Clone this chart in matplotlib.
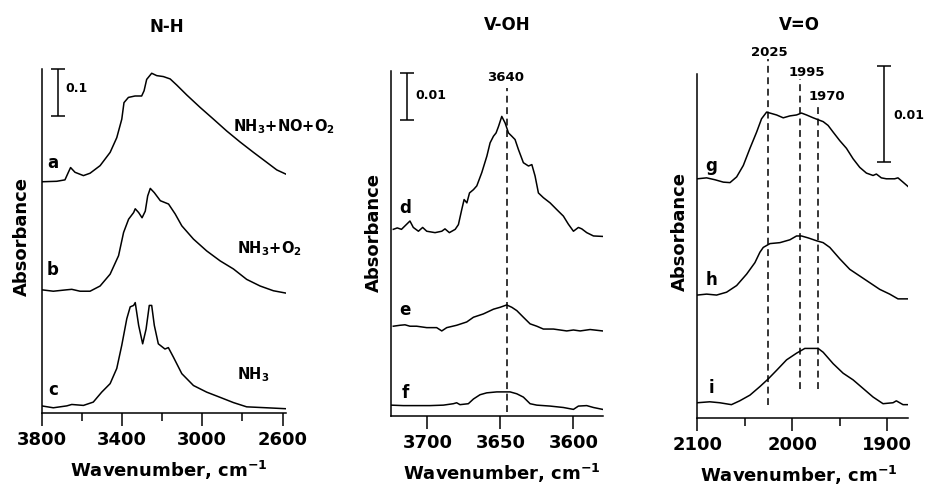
import matplotlib
matplotlib.use("Agg")
import matplotlib.pyplot as plt
from matplotlib.ticker import FixedLocator

plt.rcParams['font.family'] = ['DejaVu Sans']
plt.rcParams['font.weight'] = 'bold'
plt.rcParams['mathtext.default'] = 'bf'

# ---------------- Panel 1: N-H region ----------------
nh_titles = "N-H"
nh_offsets = [0.488, 0.26, 0.015]
nh_labels = ["a", "b", "c"]
nh_gas = [r"NH$_3$+NO+O$_2$", r"NH$_3$+O$_2$", r"NH$_3$"]

wn_a = [3800, 3725, 3684, 3667, 3656, 3634, 3592, 3559, 3509, 3459, 3426, 3401, 3390, 3368,
        3335, 3302, 3290, 3277, 3252, 3227, 3194, 3160, 3127, 3077, 3011, 2944, 2878, 2812,
        2745, 2679, 2629, 2583]
abs_a = [0, 0.001, 0.004, 0.02, 0.030, 0.02, 0.013, 0.018, 0.034, 0.062, 0.093, 0.132, 0.167,
         0.178, 0.181, 0.181, 0.192, 0.216, 0.229, 0.224, 0.222, 0.217, 0.204, 0.183, 0.157,
         0.132, 0.107, 0.084, 0.062, 0.041, 0.025, 0.016]

wn_b = [3800, 3742, 3675, 3650, 3609, 3559, 3509, 3459, 3417, 3392, 3367, 3342, 3334, 3317,
        3300, 3284, 3272, 3259, 3239, 3209, 3168, 3135, 3102, 3044, 2978, 2911, 2845, 2779,
        2712, 2646, 2583]
abs_b = [0, -0.003, 0, 0.001, -0.003, -0.003, 0.008, 0.033, 0.072, 0.121, 0.149, 0.163, 0.171,
         0.163, 0.152, 0.166, 0.198, 0.214, 0.205, 0.188, 0.181, 0.160, 0.135, 0.107, 0.082,
         0.061, 0.044, 0.022, 0.008, -0.002, -0.007]

wn_c = [3800, 3742, 3675, 3650, 3592, 3543, 3501, 3459, 3426, 3401, 3376, 3359, 3342, 3334,
        3317, 3297, 3280, 3264, 3252, 3239, 3219, 3186, 3169, 3144, 3102, 3044, 2978, 2911,
        2845, 2779, 2679, 2583]
abs_c = [0, -0.004, 0, 0.003, 0.001, 0.008, 0.029, 0.047, 0.079, 0.128, 0.184, 0.209, 0.212,
         0.218, 0.170, 0.131, 0.162, 0.212, 0.212, 0.170, 0.131, 0.120, 0.123, 0.103, 0.068,
         0.043, 0.029, 0.018, 0.007, -0.002, -0.004, -0.006]

# ---------------- Panel 2: V-OH region ----------------
oh_offsets = [0.0395, 0.0191, 0.0022]
oh_labels = ["d", "e", "f"]
oh_mark = 3645.4
oh_mark_label = "3640"

wn_d = [3723.4, 3720.7, 3717.8, 3712, 3709.7, 3706.2, 3703.3, 3700.5, 3694.8, 3690.2, 3688,
        3685, 3681, 3678.8, 3676.5, 3674.9, 3673, 3671.2, 3668.5, 3666.2, 3662.8, 3659.3,
        3657.1, 3654.8, 3653, 3651.3, 3649.1, 3646.8, 3644.5, 3642.2, 3640, 3637.7, 3634.3,
        3630.8, 3628.5, 3626.3, 3624, 3620.6, 3616, 3611.5, 3606.9, 3603.5, 3600, 3596.6,
        3594.3, 3590.9, 3586.3, 3580]
abs_d = [0, 0.0003, 0, 0.00176, 0.0004, -0.0004, 0.0004, -0.0004, -0.0007, -0.0004, 0.0001,
         -0.0007, 0, 0.001, 0.0042, 0.0063, 0.0056, 0.0077, 0.0084, 0.0092, 0.012, 0.0155,
         0.0183, 0.0197, 0.0204, 0.0218, 0.0239, 0.0225, 0.0204, 0.0197, 0.019, 0.0169, 0.0141,
         0.0134, 0.0137, 0.0113, 0.0077, 0.0067, 0.0056, 0.0042, 0.0028, 0.0011, -0.0004,
         0.0004, 0.0001, -0.0007, -0.0014, -0.0015]

wn_e = [3723.4, 3718.8, 3715.4, 3712, 3707.4, 3700.5, 3693.7, 3690.2, 3686.8, 3680, 3673.1,
        3668.5, 3661.7, 3654.8, 3650.3, 3645.7, 3642.2, 3638.8, 3634.3, 3629.7, 3625.1,
        3620.6, 3613.7, 3604.6, 3600, 3595.4, 3588.6, 3580]
abs_e = [-0.0001, 0.0001, 0.0002, -0.0001, -0.0001, -0.0004, -0.0004, -0.0011, -0.0004, 0.0001,
         0.0008, 0.0018, 0.0025, 0.0035, 0.0039, 0.0044, 0.0039, 0.0032, 0.0018, 0.0004,
         -0.0001, -0.0007, -0.0007, -0.0011, -0.0009, -0.0011, -0.0008, -0.0011]

wn_f = [3725, 3716.6, 3707.4, 3698.3, 3689.1, 3682.3, 3680, 3677.7, 3672, 3668.5, 3664,
        3659.4, 3652.5, 3643.4, 3638.8, 3634.3, 3629.7, 3625.1, 3616, 3606.9, 3600, 3596.6,
        3590.9, 3586.3, 3580]
abs_f = [0.0001, 0, 0, 0, 0.0001, 0.0004, 0.0006, 0.0002, 0.0004, 0.0014, 0.0023, 0.0027,
         0.0029, 0.0029, 0.0025, 0.0018, 0.0004, 0.0001, -0.0001, -0.0004, -0.0008, -0.0001,
         0, -0.0004, -0.0008]

# ---------------- Panel 3: V=O region ----------------
vo_offsets = [0.0251, 0.0129, 0.0016]
vo_labels = ["g", "h", "i"]
vo_marks = [2026, 1991.8, 1972.9]
vo_mark_labels = ["2025", "1995", "1970"]

wn_g = [2100, 2090.2, 2081.4, 2072.6, 2065.6, 2058.6, 2051.6, 2044.6, 2037.6, 2032.4, 2027.1,
        2023.6, 2016.6, 2009.6, 2002.6, 1995.6, 1990.4, 1985.1, 1978.1, 1972.9, 1967.6,
        1962.4, 1957.1, 1950.1, 1943.1, 1936.1, 1929.1, 1922.1, 1915.1, 1911.6, 1906.4,
        1901.1, 1892.4, 1888.9, 1883.6, 1878.4]
abs_g = [0, 0.0001, -0.0001, -0.00035, -0.0004, 0.0002, 0.0014, 0.0032, 0.0049, 0.0063, 0.007,
         0.0069, 0.0067, 0.0064, 0.0066, 0.0067, 0.0069, 0.0067, 0.0064, 0.0062, 0.006, 0.0056,
         0.0049, 0.004, 0.0032, 0.0021, 0.0012, 0.0006, 0.00035, 0.0005, 0.0001, 0, 0, 0.0001,
         -0.00035, -0.0008]

wn_h = [2100, 2090.2, 2079.7, 2069.2, 2058.6, 2048.1, 2039.4, 2034.1, 2030.6, 2023.6, 2013.1,
        2002.6, 1995.6, 1990.4, 1983.4, 1974.6, 1967.6, 1960.6, 1950.1, 1939.6, 1929.1,
        1918.6, 1908.1, 1897.6, 1888.9, 1878.4]
abs_h = [0, 0.0001, 0, 0.0003, 0.001, 0.0022, 0.0034, 0.0045, 0.005, 0.0054, 0.0055, 0.0058,
         0.0062, 0.0062, 0.006, 0.0057, 0.0055, 0.005, 0.0038, 0.0027, 0.002, 0.0013, 0.0006,
         0.0001, -0.0004, -0.0004]

wn_i = [2100, 2086.9, 2076.4, 2064.1, 2055.4, 2044.6, 2034.1, 2025.4, 2016.6, 2006.1, 1995.6,
        1986.9, 1978.1, 1972.9, 1967.6, 1957.1, 1946.6, 1936.1, 1925.6, 1915.1, 1904.6,
        1894.1, 1890.6, 1883.6, 1878.4]
abs_i = [0, 0.0001, 0, -0.0002, 0.0002, 0.0008, 0.0017, 0.0025, 0.0034, 0.0045, 0.0052, 0.0057,
         0.0057, 0.0057, 0.0053, 0.0041, 0.0031, 0.0024, 0.0015, 0.0006, -0.0001, 0, 0.0002,
         -0.0002, -0.0002]

LW = 1.1
fig = plt.figure(figsize=(9.28, 4.85), dpi=100)

ax1 = fig.add_axes([0.0449, 0.1464, 0.2633, 0.7093])
ax2 = fig.add_axes([0.4213, 0.1402, 0.2281, 0.7113])
ax3 = fig.add_axes([0.7514, 0.1361, 0.2274, 0.7093])


def style(ax, major, minor, xlim, ylim, xlab_x, ylab_y, title, title_x, title_y):
    ax.set_xlim(*xlim)
    ax.set_ylim(*ylim)
    for s in ("top", "right"):
        ax.spines[s].set_visible(False)
    for s in ("left", "bottom"):
        ax.spines[s].set_linewidth(1.1)
    ax.xaxis.set_major_locator(FixedLocator(major))
    ax.xaxis.set_minor_locator(FixedLocator(minor))
    ax.set_xticklabels([str(v) for v in major])
    ax.tick_params(axis="x", which="major", direction="out", length=9, width=1.1,
                   labelsize=13, pad=3)
    ax.tick_params(axis="x", which="minor", direction="out", length=5.5, width=1.1)
    ax.tick_params(axis="y", left=False, labelleft=False)
    ax.set_xlabel(r"Wavenumber, cm$^{-1}$", fontsize=13, fontweight="bold",
                  va="center")
    ax.xaxis.set_label_coords(xlab_x, -0.163)
    ax.set_ylabel("Absorbance", fontsize=13, fontweight="bold", va="center")
    ax.yaxis.set_label_coords(-0.082, ylab_y)
    ax.text(title_x, title_y, title, transform=ax.transAxes, ha="center", va="center",
            fontsize=12, fontweight="bold", clip_on=False)


# Panel 1
style(ax1, [3800, 3400, 3000, 2600], [3600, 3200, 2800], (3800, 2583), (0, 0.726),
      0.521, 0.517, "N-H", 0.513, 1.125)
for wn, ab, off in zip([wn_a, wn_b, wn_c], [abs_a, abs_b, abs_c], nh_offsets):
    ax1.plot(wn, [v + off for v in ab], color="black", lw=LW)
for lab, y in zip(nh_labels, [0.530, 0.304, 0.0506]):
    ax1.text(3744, y, lab, ha="center", va="center", fontsize=12, fontweight="bold")
for g, (x, y) in zip(nh_gas, [(2847, 0.6056), (2829, 0.350), (2829, 0.0823)]):
    ax1.text(x, y, g, ha="left", va="center", fontsize=10.5, fontweight="bold",
             clip_on=False)
ax1.errorbar([3717], [0.677], yerr=[0.05], color="black", lw=1.1, capsize=5,
             capthick=1.1, clip_on=False)
ax1.text(3682, 0.687, "0.1", ha="left", va="center", fontsize=9, fontweight="bold")

# Panel 2
style(ax2, [3700, 3650, 3600], [], (3725, 3580), (0, 0.073),
      0.523, 0.536, "V-OH", 0.55, 1.136)
for wn, ab, off in zip([wn_d, wn_e, wn_f], [abs_d, abs_e, abs_f], oh_offsets):
    ax2.plot(wn, [v + off for v in ab], color="black", lw=LW)
for lab, y in zip(oh_labels, [0.0443, 0.0226, 0.0051]):
    ax2.text(3715.4, y, lab, ha="center", va="center", fontsize=12, fontweight="bold")
ax2.plot([oh_mark, oh_mark], [0.0008, 0.0694], color="black", lw=1.1,
         ls=(0, (4.5, 3)), clip_on=False)
ax2.text(oh_mark + 1, 0.0718, oh_mark_label, ha="center", va="center", fontsize=9.5,
         fontweight="bold", clip_on=False)
ax2.errorbar([3713.8], [0.06765], yerr=[0.005], color="black", lw=1.1, capsize=5,
             capthick=1.1, clip_on=False)
ax2.text(3708.6, 0.0681, "0.01", ha="left", va="center", fontsize=9, fontweight="bold")

# Panel 3
style(ax3, [2100, 2000, 1900], [2050, 1950], (2100, 1878), (0, 0.0361),
      0.482, 0.544, "V=O", 0.482, 1.145)
for wn, ab, off in zip([wn_g, wn_h, wn_i], [abs_g, abs_h, abs_i], vo_offsets):
    ax3.plot(wn, [v + off for v in ab], color="black", lw=LW)
for lab, y in zip(vo_labels, [0.0266, 0.0146, 0.00325]):
    ax3.text(2084.9, y, lab, ha="center", va="center", fontsize=12, fontweight="bold")
for x, (y0, y1) in zip(vo_marks, [(0.0014, 0.0377), (0.003, 0.0356), (0.003, 0.0328)]):
    ax3.plot([x, x], [y0, y1], color="black", lw=1.1, ls=(0, (4.5, 3)), clip_on=False)
for lab, (x, y) in zip(vo_mark_labels, [(2024.7, 0.0385), (1985.1, 0.0364), (1964, 0.0338)]):
    ax3.text(x, y, lab, ha="center", va="center", fontsize=9.5, fontweight="bold",
             clip_on=False)
ax3.errorbar([1903.9], [0.0319], yerr=[0.005], color="black", lw=1.1, capsize=5,
             capthick=1.1, clip_on=False)
ax3.text(1893.4, 0.0319, "0.01", ha="left", va="center", fontsize=9, fontweight="bold",
         clip_on=False)

fig.savefig("out.png", dpi=100)
